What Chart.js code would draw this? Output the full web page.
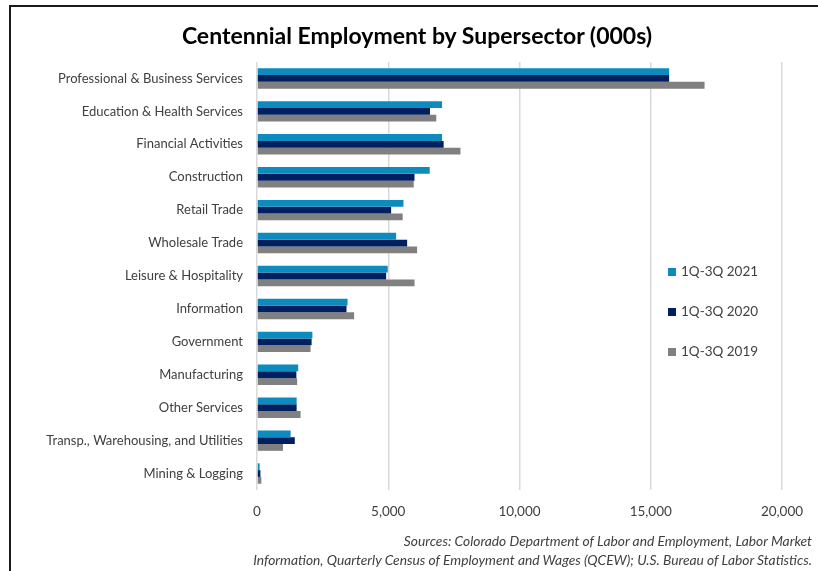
<!DOCTYPE html>
<html>
<head>
<meta charset="utf-8">
<script src="https://cdn.jsdelivr.net/npm/chart.js@4.4.0/dist/chart.umd.min.js"></script>
<style>
  html, body { margin: 0; padding: 0; background: #fff; }
  #wrap { position: relative; width: 818px; height: 571px; }
  #frame { position: absolute; left: 9px; top: 5px; right: 0; bottom: 0;
           border-left: 2px solid #1a1a1a; border-top: 2px solid #1a1a1a; }
  #titulo { position: absolute; left: 17px; width: 800px; top: 21px; text-align: center;
            font: bold 23px Lato, sans-serif; color: #000; line-height: 28px; }
  #source { position: absolute; right: 6px; top: 531px; width: 700px; text-align: right;
            font: italic 13.8px Lato, sans-serif; color: #404040; line-height: 19px; }
</style>
</head>
<body>
<div id="wrap">
  <div id="frame"></div>
  <div id="titulo">Centennial Employment by Supersector (000s)</div>
  <canvas id="grafico" width="818" height="571"></canvas>
  <div id="source">Sources: Colorado Department of Labor and Employment, Labor Market<br>Information, Quarterly Census of Employment and Wages (QCEW); U.S. Bureau of Labor Statistics.</div>
</div>
<script>
const sectors = [
  'Professional & Business Services',
  'Education & Health Services',
  'Financial Activities',
  'Construction',
  'Retail Trade',
  'Wholesale Trade',
  'Leisure & Hospitality',
  'Information',
  'Government',
  'Manufacturing',
  'Other Services',
  'Transp., Warehousing, and Utilities',
  'Mining & Logging'
];
const emp2021 = [15700, 7050, 7050, 6580, 5580, 5300, 4980, 3450, 2110, 1570, 1510, 1280, 100];
const emp2020 = [15700, 6590, 7110, 6000, 5110, 5720, 4920, 3410, 2080, 1500, 1510, 1440, 130];
const emp2019 = [17050, 6830, 7750, 5970, 5550, 6100, 6000, 3700, 2040, 1530, 1660, 990, 165];
const xTicks = [0, 5000, 10000, 15000, 20000];

document.addEventListener("DOMContentLoaded", function () {
  const ctx = document.getElementById('grafico').getContext('2d');

  // legenda desenhada dentro da area do grafico, como no original
  const legendaInterna = {
    id: 'legendaInterna',
    afterDraw(chart) {
      const c = chart.ctx;
      c.save();
      c.font = '13.5px Lato, sans-serif';
      c.textBaseline = 'middle';
      chart.data.datasets.forEach((ds, i) => {
        const y = 272 + i * 40;
        c.fillStyle = ds.backgroundColor;
        c.fillRect(668, y - 4, 8, 8);
        c.fillStyle = '#404040';
        c.fillText(ds.label, 681, y);
      });
      c.restore();
    }
  };

  const config = {
    type: 'bar',
    data: {
      labels: sectors,
      datasets: [
        { label: '1Q-3Q 2021', data: emp2021, backgroundColor: '#0b8bbe' },
        { label: '1Q-3Q 2020', data: emp2020, backgroundColor: '#002060' },
        { label: '1Q-3Q 2019', data: emp2019, backgroundColor: '#808080' }
      ]
    },
    options: {
      indexAxis: 'y',
      responsive: false,
      animation: false,
      categoryPercentage: 0.62,
      barPercentage: 1.0,
      layout: {
        padding: { left: 10, right: 36, top: 62, bottom: 49 }
      },
      scales: {
        x: {
          min: 0,
          max: 20000,
          afterBuildTicks: (axis) => { axis.ticks = xTicks.map(v => ({ value: v })); },
          afterFit: (axis) => { axis.height = 32; },
          grid: { color: '#d9d9d9', lineWidth: 1.5, drawTicks: false },
          border: { display: false },
          ticks: {
            padding: 14,
            color: '#404040',
            font: { family: 'Lato', size: 13.5 },
            callback: (v) => v.toLocaleString('en-US')
          }
        },
        y: {
          afterFit: (axis) => { axis.width = 247; },
          grid: { display: false, drawTicks: false },
          border: { display: false },
          ticks: {
            padding: 14,
            color: '#404040',
            font: { family: 'Lato', size: 13 }
          }
        }
      },
      plugins: {
        legend: { display: false },
        tooltip: { enabled: false },
        title: { display: false }
      }
    },
    plugins: [legendaInterna]
  };

  new Chart(ctx, config);
});
</script>
</body>
</html>
